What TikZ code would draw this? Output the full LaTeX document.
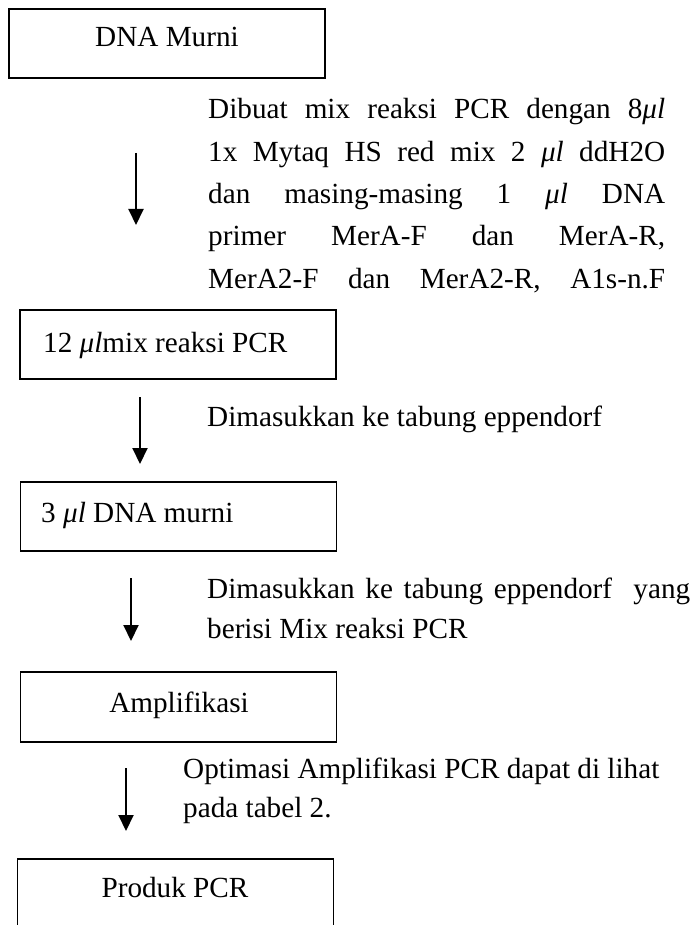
\documentclass[tikz,border=0pt]{standalone}
\usepackage{fontspec}
\setmainfont{Liberation Serif}
\usetikzlibrary{arrows.meta}
\newcommand{\ul}{{\itshape μl}}
\begin{document}
\begin{tikzpicture}[x=1pt,y=-1pt,
  boxnode/.style={draw,line width=1.8pt,minimum width=316pt,inner sep=0pt},
  txt/.style={inner sep=0pt,anchor=base west,font=\fontsize{29.2}{42}\selectfont},
  ctxt/.style={inner sep=0pt,anchor=base,font=\fontsize{29.2}{42}\selectfont},
  flow/.style={line width=2pt,-{Triangle[width=15pt,length=16pt]}}]
\useasboundingbox (0,0) rectangle (699,925);
% boxes
\node[boxnode,minimum height=69pt] (b1) at (167,43.5) {};
\node[boxnode,minimum height=69pt] (b2) at (178,344.5) {};
\node[boxnode,minimum height=69pt] (b3) at (178.5,516.5) {};
\node[boxnode,minimum height=70pt] (b4) at (178.5,707) {};
\node[boxnode,minimum height=140pt] (b5) at (175.5,929) {};
% box labels
\node[ctxt] (t1) at (167,47) {DNA Murni};
\node[txt] (t2) at (43,352) {12 \ul mix reaksi PCR};
\node[txt] (t3) at (41,522) {3 \ul{} DNA murni};
\node[ctxt] (t4) at (179,712) {Amplifikasi};
\node[ctxt] (t5) at (175,897) {Produk PCR};
% paragraph 1
\node[txt] (p1) at (208,119) {\makebox[457pt][s]{Dibuat mix reaksi PCR dengan 8\ul}};
\node[txt] (p2) at (208,162) {\makebox[457pt][s]{1x Mytaq HS red mix 2 \ul{} ddH2O}};
\node[txt] (p3) at (208,203.5) {\makebox[457pt][s]{dan masing-masing 1 \ul{} DNA}};
\node[txt] (p4) at (208,245.5) {\makebox[457pt][s]{primer MerA-F dan MerA-R,}};
\node[txt] (p5) at (208,288) {\makebox[457pt][s]{MerA2-F dan MerA2-R, A1s-n.F}};
% other labels
\node[txt] (q1) at (207,426) {Dimasukkan ke tabung eppendorf};
\node[txt] (r1) at (207,598) {\makebox[483pt][s]{Dimasukkan ke tabung eppendorf\ \ yang}};
\node[txt] (r2) at (207,638) {berisi Mix reaksi PCR};
\node[txt] (s1) at (183,778) {Optimasi Amplifikasi PCR dapat di lihat};
\node[txt] (s2) at (183,817) {pada tabel 2.};
% arrows
\coordinate (a1s) at (136,153); \coordinate (a1e) at (136,225);
\coordinate (a2s) at (140,397); \coordinate (a2e) at (140,464);
\coordinate (a3s) at (131,578); \coordinate (a3e) at (131,641);
\coordinate (a4s) at (126,768); \coordinate (a4e) at (126,831);
\draw[flow] (a1s) -- (a1e);
\draw[flow] (a2s) -- (a2e);
\draw[flow] (a3s) -- (a3e);
\draw[flow] (a4s) -- (a4e);
\end{tikzpicture}
\end{document}
